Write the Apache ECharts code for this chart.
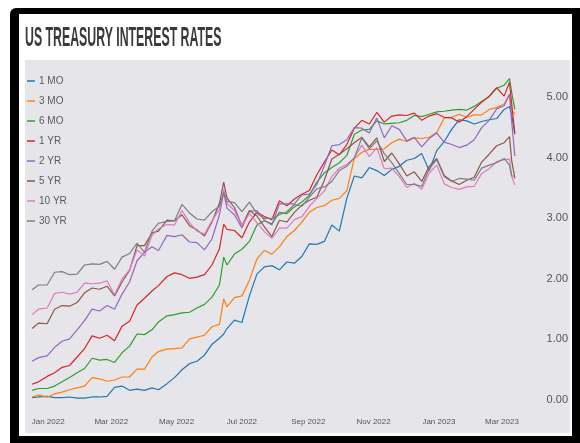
<!DOCTYPE html>
<html>
<head>
<meta charset="utf-8">
<script src="https://cdn.jsdelivr.net/npm/echarts@6/dist/echarts.min.js"></script>
<style>html,body{margin:0;padding:0;background:#fff;}#c{width:580px;height:443px;}</style>
</head>
<body>
<div id="c"></div>
<script>
const dates = ['2021-12-17','2021-12-23','2021-12-31','2022-01-07','2022-01-14','2022-01-21','2022-01-28','2022-02-04','2022-02-11','2022-02-18','2022-02-25','2022-03-04','2022-03-11','2022-03-18','2022-03-25','2022-04-01','2022-04-08','2022-04-14','2022-04-22','2022-04-29','2022-05-06','2022-05-13','2022-05-20','2022-05-27','2022-06-03','2022-06-10','2022-06-14','2022-06-17','2022-06-24','2022-07-01','2022-07-08','2022-07-15','2022-07-22','2022-07-29','2022-08-05','2022-08-12','2022-08-19','2022-08-26','2022-09-02','2022-09-09','2022-09-16','2022-09-23','2022-09-30','2022-10-07','2022-10-14','2022-10-21','2022-10-28','2022-11-04','2022-11-11','2022-11-18','2022-11-25','2022-12-02','2022-12-09','2022-12-16','2022-12-23','2022-12-30','2023-01-06','2023-01-13','2023-01-20','2023-01-27','2023-02-03','2023-02-10','2023-02-17','2023-02-24','2023-03-03','2023-03-08','2023-03-10','2023-03-13'];
const seriesNames = ['1 MO','3 MO','6 MO','1 YR','2 YR','5 YR','10 YR','30 YR'];
const mo1  = [0.04,0.05,0.06,0.04,0.04,0.05,0.03,0.03,0.05,0.05,0.06,0.21,0.23,0.16,0.18,0.16,0.20,0.17,0.27,0.37,0.50,0.60,0.64,0.74,0.92,1.02,1.09,1.18,1.32,1.28,1.72,2.08,2.20,2.22,2.15,2.28,2.26,2.37,2.58,2.57,2.62,2.89,2.79,3.33,3.70,3.67,3.84,3.79,3.71,3.81,3.86,3.96,3.99,4.07,3.79,4.12,4.27,4.47,4.63,4.61,4.56,4.60,4.63,4.65,4.80,4.85,4.71,4.39];
const mo3  = [0.05,0.08,0.05,0.10,0.13,0.17,0.20,0.23,0.37,0.35,0.31,0.33,0.38,0.38,0.51,0.51,0.71,0.80,0.84,0.85,0.86,1.01,1.04,1.07,1.21,1.25,1.67,1.54,1.69,1.72,1.98,2.33,2.47,2.41,2.53,2.70,2.80,2.94,3.10,3.18,3.21,3.30,3.33,3.46,3.99,4.09,4.14,4.14,4.15,4.25,4.31,4.27,4.33,4.32,4.34,4.42,4.66,4.67,4.72,4.67,4.71,4.71,4.80,4.83,4.89,5.05,4.80,4.72];
const mo6  = [0.16,0.19,0.19,0.23,0.30,0.37,0.45,0.52,0.69,0.66,0.67,0.62,0.78,0.89,1.09,1.08,1.16,1.29,1.39,1.41,1.44,1.45,1.52,1.58,1.70,1.90,2.36,2.23,2.41,2.49,2.62,2.89,2.96,2.91,3.10,3.08,3.19,3.27,3.38,3.60,3.75,3.84,3.92,4.04,4.39,4.46,4.47,4.61,4.56,4.57,4.58,4.62,4.70,4.68,4.72,4.76,4.77,4.79,4.80,4.79,4.85,4.93,5.01,5.15,5.20,5.31,5.08,4.80];
const yr1  = [0.26,0.30,0.39,0.45,0.54,0.57,0.71,0.85,1.06,1.02,1.07,0.98,1.22,1.30,1.57,1.68,1.80,1.89,2.04,2.10,2.07,2.01,2.03,2.07,2.23,2.50,2.90,2.82,2.80,2.68,2.94,3.10,3.03,2.98,3.29,3.21,3.32,3.40,3.46,3.72,3.93,4.13,4.05,4.22,4.49,4.62,4.56,4.75,4.59,4.69,4.71,4.70,4.74,4.62,4.69,4.73,4.67,4.66,4.59,4.68,4.80,4.92,5.02,5.16,5.02,5.25,4.90,4.40];
const yr2  = [0.64,0.70,0.73,0.87,0.97,1.01,1.16,1.31,1.50,1.47,1.56,1.50,1.75,1.95,2.30,2.44,2.53,2.47,2.72,2.70,2.73,2.61,2.60,2.48,2.66,3.06,3.43,3.17,3.06,2.84,3.12,3.13,2.97,2.89,3.24,3.24,3.24,3.39,3.40,3.56,3.87,4.20,4.22,4.30,4.50,4.49,4.41,4.66,4.33,4.53,4.47,4.28,4.34,4.18,4.32,4.41,4.26,4.22,4.17,4.21,4.30,4.50,4.62,4.81,4.86,5.05,4.60,4.03];
const yr5  = [1.18,1.27,1.26,1.50,1.56,1.55,1.61,1.77,1.85,1.83,1.88,1.72,1.95,2.14,2.55,2.55,2.76,2.79,2.97,2.96,3.06,2.88,2.81,2.71,2.94,3.25,3.60,3.34,3.18,2.88,3.13,3.04,2.86,2.70,2.97,2.94,3.10,3.22,3.30,3.35,3.63,3.98,4.06,4.15,4.25,4.34,4.18,4.33,3.94,4.08,3.90,3.70,3.77,3.61,3.86,3.99,3.71,3.62,3.56,3.63,3.68,3.93,4.06,4.20,4.25,4.35,3.96,3.66];
const yr10 = [1.41,1.50,1.52,1.76,1.78,1.75,1.78,1.93,1.92,1.93,1.97,1.74,2.00,2.15,2.48,2.38,2.72,2.83,2.90,2.89,3.13,2.93,2.79,2.74,2.96,3.15,3.48,3.25,3.13,2.88,3.08,2.93,2.78,2.67,2.84,2.84,2.98,3.03,3.20,3.33,3.45,3.69,3.83,3.89,4.00,4.21,4.02,4.17,3.82,3.83,3.69,3.51,3.58,3.48,3.75,3.88,3.57,3.51,3.48,3.52,3.53,3.74,3.82,3.94,3.97,3.98,3.70,3.55];
const yr30 = [1.82,1.90,1.90,2.11,2.12,2.07,2.08,2.23,2.25,2.24,2.29,2.16,2.36,2.42,2.59,2.44,2.79,2.92,2.95,2.96,3.23,3.09,2.99,2.97,3.11,3.20,3.43,3.28,3.26,3.11,3.27,3.08,3.00,3.00,3.06,3.11,3.23,3.20,3.35,3.49,3.52,3.61,3.79,3.86,4.00,4.33,4.15,4.28,4.07,3.92,3.74,3.56,3.56,3.53,3.82,3.97,3.69,3.61,3.66,3.65,3.63,3.83,3.88,3.92,3.99,3.88,3.70,3.70];
const yTicks = [0,1,2,3,4,5];
const xTickLabels = ['2022-01-01','2022-03-01','2022-05-01','2022-07-01','2022-09-01','2022-11-01','2023-01-01','2023-03-01'];

const seriesValues = [mo1,mo3,mo6,yr1,yr2,yr5,yr10,yr30];
const colors = ['#1f77b4','#ff7f0e','#2ca02c','#d62728','#9467bd','#8c564b','#e377c2','#7f7f7f'];
const ts = s => { const p = s.split('-').map(Number); return Date.UTC(p[0], p[1]-1, p[2]); };
const months = ['Jan','Feb','Mar','Apr','May','Jun','Jul','Aug','Sep','Oct','Nov','Dec'];

const chart = echarts.init(document.getElementById('c'));
chart.setOption({
  animation: false,
  color: colors,
  graphic: [
    {type:'rect', z:-30, shape:{x:10,y:8,width:570,height:435,r:[6,0,0,0]}, style:{fill:'#000'}},
    {type:'rect', z:-29, shape:{x:19,y:14,width:553,height:422}, style:{fill:'#fff'}},
    {type:'rect', z:-28, shape:{x:25,y:60,width:545,height:373}, style:{fill:'#e6e5ea'}},
    {type:'text', z:10, x:25, y:38, scaleX:0.44,
      style:{text:'US TREASURY INTEREST RATES', font:'bold 28px "Liberation Sans"', fill:'#3a3a3a', verticalAlign:'middle', align:'left'}}
  ],
  legend: {
    orient:'vertical', left:22, top:70,
    icon:'rect', itemWidth:8, itemHeight:1.5, itemGap:8,
    data: seriesNames,
    textStyle:{fontSize:10, color:'#5a5a5a', fontFamily:'Liberation Sans', lineHeight:12, padding:[0,0,0,-1]}
  },
  grid: {left:30, right:63, top:61, bottom:43, containLabel:false},
  xAxis: {
    type:'value', min: ts('2021-12-15'), max: ts('2023-03-15'),
    axisLine:{show:false}, axisTick:{show:false}, splitLine:{show:false},
    axisLabel:{
      customValues: xTickLabels.map(ts),
      margin:18, fontSize:8, color:'#555', fontFamily:'Liberation Sans',
      formatter: v => { const d = new Date(v); return months[d.getUTCMonth()] + ' ' + d.getUTCFullYear(); }
    }
  },
  yAxis: {
    type:'value', position:'right', min:0, max:5.6, interval:1,
    axisLine:{show:false}, axisTick:{show:false}, splitLine:{show:false},
    axisLabel:{
      customValues: yTicks,
      align:'right', margin:51, fontSize:11, color:'#555', fontFamily:'Liberation Sans',
      formatter: v => v.toFixed(2)
    }
  },
  series: seriesNames.map((name, k) => ({
    name, type:'line', symbol:'none', showSymbol:false,
    lineStyle:{width:1.2},
    data: dates.map((d, i) => [ts(d), seriesValues[k][i]])
  }))
});
</script>
</body>
</html>
